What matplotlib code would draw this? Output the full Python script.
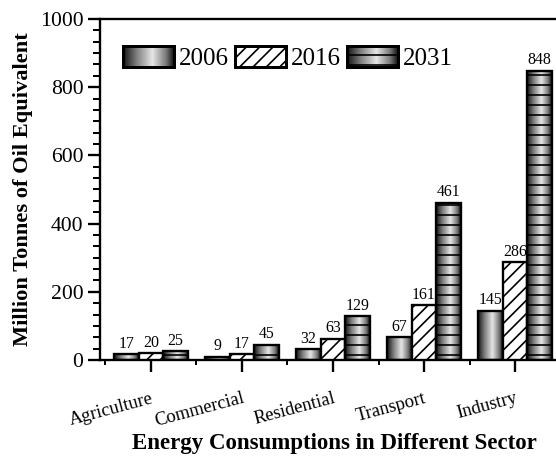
import numpy as np
import matplotlib
matplotlib.use("Agg")
import matplotlib.pyplot as plt
from matplotlib.colors import LinearSegmentedColormap
from matplotlib.ticker import MultipleLocator, FixedLocator
from matplotlib.patches import Rectangle

# ---------------- data ----------------
sectors = ["Agriculture", "Commercial", "Residential", "Transport", "Industry"]
years = ["2006", "2016", "2031"]
vals_2006 = [17, 9, 32, 67, 145]
vals_2016 = [20, 17, 63, 161, 286]
vals_2031 = [25, 45, 129, 461, 848]

plt.rcParams['font.family'] = ['Liberation Serif', 'DejaVu Serif']
plt.rcParams['hatch.linewidth'] = 1.0
plt.rcParams['hatch.color'] = 'black'

DPI = 120
fig = plt.figure(figsize=(556 / DPI, 459 / DPI), dpi=DPI)
ax = fig.add_axes([100 / 556, 1 - 360 / 459, 1 - 100 / 556, (360 - 19) / 459])

cyl = LinearSegmentedColormap.from_list(
    "cyl", [(0.0, "#151515"), (0.25, "#7a7a7a"), (0.58, "#e6e6e6"),
            (0.85, "#7a7a7a"), (1.0, "#151515")])
grad = np.linspace(0, 1, 64).reshape(1, -1)

x = np.arange(len(sectors))
w = 0.27
series = [vals_2006, vals_2016, vals_2031]
styles = [dict(gradient=True, hatch=None),
          dict(gradient=False, hatch="///"),
          dict(gradient=True, hatch="--")]

for i, (vals, st) in enumerate(zip(series, styles)):
    pos = x + (i - 1) * w
    bc = ax.bar(pos, vals, width=w, facecolor="white" if not st["gradient"] else "none",
                edgecolor="black", linewidth=1.4, hatch=st["hatch"], zorder=3,
                label=years[i])
    if st["gradient"]:
        for rect in bc.patches:
            x0 = rect.get_x(); x1 = x0 + rect.get_width(); h = rect.get_height()
            ax.imshow(grad, cmap=cyl, extent=[x0, x1, 0, h], aspect="auto",
                      interpolation="bilinear", zorder=2)
    ax.bar_label(bc, labels=[str(v) for v in vals], padding=1.5, fontsize=9.5, zorder=4)

ax.set_xlim(-0.56, 4.45)
ax.set_ylim(0, 1000)

# spines
ax.spines['right'].set_visible(False)
for s in ['left', 'bottom', 'top']:
    ax.spines[s].set_linewidth(1.4)

# y ticks
ax.yaxis.set_major_locator(MultipleLocator(200))
ax.yaxis.set_minor_locator(MultipleLocator(200 / 6))
ax.tick_params(axis='y', which='major', direction='out', length=7, width=1.4,
               labelsize=13, pad=3)
ax.tick_params(axis='y', which='minor', direction='out', length=4, width=1.2)

# x ticks
ax.xaxis.set_major_locator(FixedLocator(x))
ax.xaxis.set_minor_locator(FixedLocator(np.append(x - 0.5, x[-1] + 0.5)))
ax.set_xticklabels(sectors, rotation=15, ha='right', va='top', rotation_mode='anchor')
ax.tick_params(axis='x', which='major', direction='out', length=7, width=1.4,
               labelsize=11.2, pad=11)
ax.tick_params(axis='x', which='minor', direction='out', length=3, width=1.2)

ax.set_ylabel("Million Tonnes of Oil Equivalent", fontsize=13.4, fontweight='bold', labelpad=4)
ax.set_xlabel("Energy Consumptions in Different Sector", fontsize=13.7, fontweight='bold')
ax.xaxis.set_label_coords((334 - 100) / 456, -(433 - 360) / 341)

leg = ax.legend(loc='center left', bbox_to_anchor=(0.05, 0.886), ncol=3, frameon=False,
                fontsize=15, handlelength=2.04, handleheight=0.92, handletextpad=0.2,
                columnspacing=0.25, borderpad=0, borderaxespad=0)
for h in leg.legend_handles:
    h.set_linewidth(1.8)

fig.canvas.draw()
renderer = fig.canvas.get_renderer()
inv = fig.transFigure.inverted()
for h, st in zip(leg.legend_handles, styles):
    bb = h.get_window_extent(renderer)
    (fx0, fy0), (fx1, fy1) = inv.transform([[bb.x0, bb.y0], [bb.x1, bb.y1]])
    if st["gradient"]:
        oax = fig.add_axes([fx0, fy0, fx1 - fx0, fy1 - fy0])
        oax.set_axis_off()
        oax.imshow(grad, cmap=cyl, extent=[0, 1, 0, 1], aspect="auto",
                   interpolation="bilinear")
        oax.add_patch(Rectangle((0, 0), 1, 1, transform=oax.transAxes, facecolor='none',
                                edgecolor='black', linewidth=1.8, hatch=st["hatch"],
                                clip_on=False))
        oax.set_xlim(0, 1); oax.set_ylim(0, 1)

fig.savefig("out.png", dpi=DPI)
